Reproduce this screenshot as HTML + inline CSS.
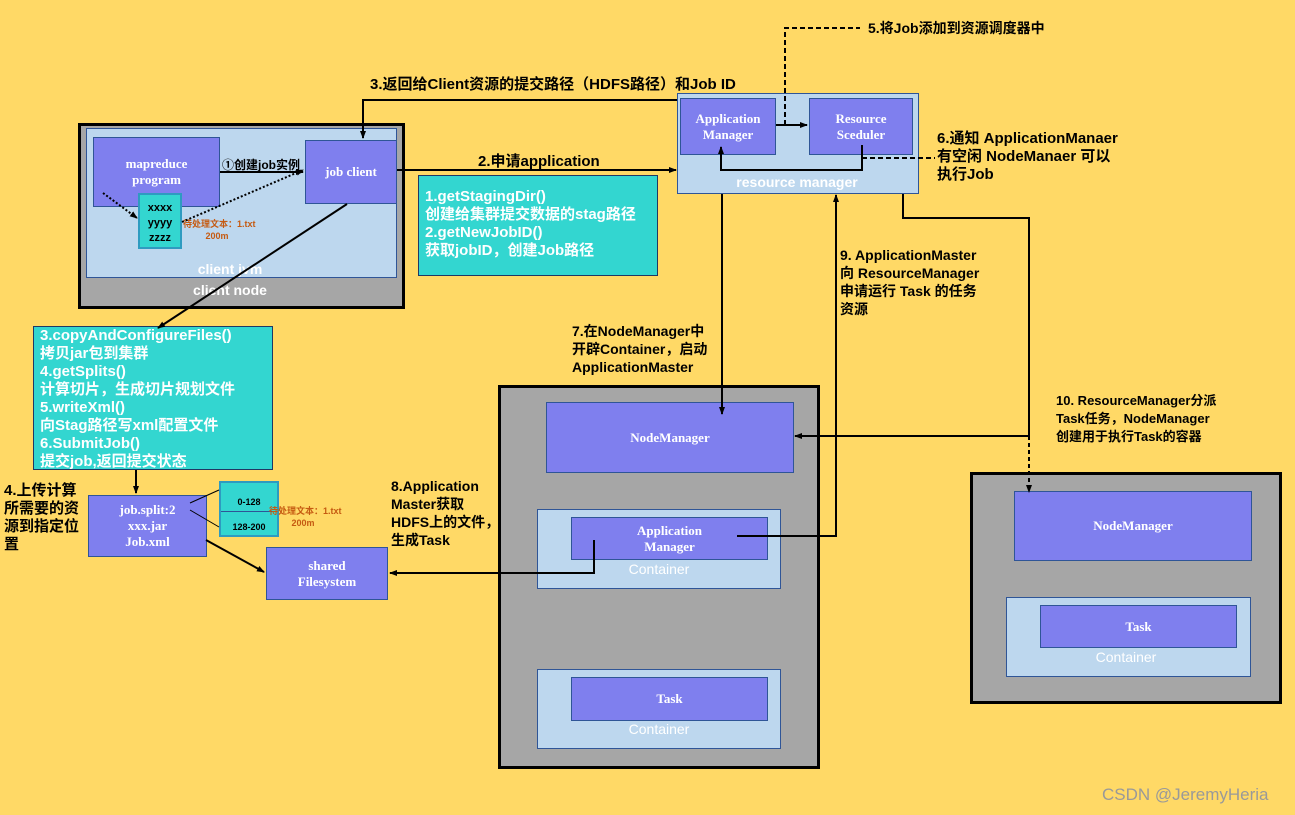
<!DOCTYPE html>
<html><head><meta charset="utf-8"><style>
body{margin:0;width:1295px;height:815px;background:#FFD966;position:relative;overflow:hidden;font-family:"Liberation Sans","Noto Sans CJK SC",sans-serif;}
div{position:absolute;box-sizing:border-box;}
.g{background:#A6A6A6;border:3px solid #000;}
.lb{background:#BDD7EE;border:1px solid #2F5597;}
.p{background:#7F7FEE;border:1px solid #2F5597;color:#fff;font-family:"Liberation Serif","Noto Serif CJK SC",serif;font-weight:bold;font-size:13px;display:flex;align-items:center;justify-content:center;text-align:center;line-height:16px;}
.t{background:#33D6D0;border:1px solid #203864;color:#fff;font-weight:bold;font-size:15px;line-height:18px;}
.w{color:#fff;font-weight:bold;font-size:14px;text-align:center;}
.k{color:#000;font-weight:bold;font-size:14px;line-height:18px;white-space:nowrap;}
.o{color:#C55A11;font-weight:bold;font-size:9px;line-height:12px;white-space:nowrap;}
</style></head><body>
<div class="g" style="left:78px;top:123px;width:327px;height:186px"></div>
<div class="lb" style="left:86px;top:128px;width:311px;height:150px"></div>
<div class="p" style="left:93px;top:137px;width:127px;height:70px">mapreduce<br>program</div>
<div class="p" style="left:305px;top:140px;width:92px;height:64px">job client</div>
<div style="left:138px;top:193px;width:44px;height:56px;background:#33D6D0;border:2px solid #2E9BC0;font-size:11px;font-weight:bold;text-align:center;line-height:15px;padding-top:6px">xxxx<br>yyyy<br>zzzz</div>
<div class="o" style="left:183px;top:218px">待处理文本：1.txt<br>&nbsp;&nbsp;&nbsp;&nbsp;&nbsp;&nbsp;&nbsp;&nbsp;&nbsp;200m</div>
<div class="w" style="left:180px;top:261px;width:100px">client jvm</div>
<div class="w" style="left:180px;top:282px;width:100px">client node</div>
<div class="k" style="left:222px;top:156px;font-size:12px">①创建job实例</div>

<div class="t" style="left:418px;top:175px;width:240px;height:101px;padding:12px 0 0 6px">1.getStagingDir()<br>创建给集群提交数据的stag路径<br>2.getNewJobID()<br>获取jobID，创建Job路径</div>

<div class="lb" style="left:677px;top:93px;width:242px;height:101px"></div>
<div class="p" style="left:680px;top:98px;width:96px;height:57px">Application<br>Manager</div>
<div class="p" style="left:809px;top:98px;width:104px;height:57px">Resource<br>Sceduler</div>
<div class="w" style="left:700px;top:174px;width:194px">resource manager</div>

<div class="t" style="left:33px;top:326px;width:240px;height:144px;padding:0 0 0 6px">3.copyAndConfigureFiles()<br>拷贝jar包到集群<br>4.getSplits()<br>计算切片，生成切片规划文件<br>5.writeXml()<br>向Stag路径写xml配置文件<br>6.SubmitJob()<br>提交job,返回提交状态</div>

<div class="p" style="left:88px;top:495px;width:119px;height:62px">job.split:2<br>xxx.jar<br>Job.xml</div>
<div style="left:219px;top:481px;width:60px;height:56px;background:#33D6D0;border:2px solid #2E9BC0;font-size:9px;font-weight:bold;text-align:center"><div style="left:0;top:14px;width:56px">0-128</div><div style="left:0;top:28px;width:56px;border-top:1px solid #2F5597"></div><div style="left:0;top:39px;width:56px">128-200</div></div>
<div class="o" style="left:269px;top:505px">待处理文本：1.txt<br>&nbsp;&nbsp;&nbsp;&nbsp;&nbsp;&nbsp;&nbsp;&nbsp;&nbsp;200m</div>
<div class="p" style="left:266px;top:547px;width:122px;height:53px">shared<br>Filesystem</div>
<div class="k" style="left:4px;top:482px;font-size:15px">4.上传计算<br>所需要的资<br>源到指定位<br>置</div>

<div class="g" style="left:498px;top:385px;width:322px;height:384px"></div>
<div class="p" style="left:546px;top:402px;width:248px;height:71px">NodeManager</div>
<div class="lb" style="left:537px;top:509px;width:244px;height:80px"></div>
<div class="p" style="left:571px;top:517px;width:197px;height:43px">Application<br>Manager</div>
<div class="w" style="left:537px;top:561px;width:244px;font-weight:normal;font-size:14px">Container</div>
<div class="lb" style="left:537px;top:669px;width:244px;height:80px"></div>
<div class="p" style="left:571px;top:677px;width:197px;height:44px">Task</div>
<div class="w" style="left:537px;top:721px;width:244px;font-weight:normal;font-size:14px">Container</div>

<div class="g" style="left:970px;top:472px;width:312px;height:232px"></div>
<div class="p" style="left:1014px;top:491px;width:238px;height:70px">NodeManager</div>
<div class="lb" style="left:1006px;top:597px;width:245px;height:80px"></div>
<div class="p" style="left:1040px;top:605px;width:197px;height:43px">Task</div>
<div class="w" style="left:1006px;top:649px;width:240px;font-weight:normal;font-size:14px">Container</div>

<div class="k" style="left:370px;top:76px;font-size:15px">3.返回给Client资源的提交路径（HDFS路径）和Job ID</div>
<div class="k" style="left:478px;top:153px;font-size:15px">2.申请application</div>
<div class="k" style="left:868px;top:19px">5.将Job添加到资源调度器中</div>
<div class="k" style="left:937px;top:130px;font-size:15px">6.通知 ApplicationManaer<br>有空闲 NodeManaer 可以<br>执行Job</div>
<div class="k" style="left:840px;top:246px">9. ApplicationMaster<br>向 ResourceManager<br>申请运行 Task 的任务<br>资源</div>
<div class="k" style="left:572px;top:322px">7.在NodeManager中<br>开辟Container，启动<br>ApplicationMaster</div>
<div class="k" style="left:391px;top:477px">8.Application<br>Master获取<br>HDFS上的文件，<br>生成Task</div>
<div class="k" style="left:1056px;top:392px;font-size:13px">10. ResourceManager分派<br>Task任务，NodeManager<br>创建用于执行Task的容器</div>
<div style="left:1102px;top:785px;color:#999;font-size:17px">CSDN @JeremyHeria</div>

<svg width="1295" height="815" style="position:absolute;left:0;top:0" fill="none" stroke="#000" stroke-width="2">
<defs><marker id="a" markerWidth="8" markerHeight="8" refX="7" refY="4" orient="auto" markerUnits="userSpaceOnUse"><path d="M0,1 L8,4 L0,7z" fill="#000" stroke="none"/></marker></defs>
<polyline points="677,100 363,100 363,138" marker-end="url(#a)"/>
<line x1="397" y1="170" x2="676" y2="170" marker-end="url(#a)"/>
<line x1="220" y1="172" x2="303" y2="172" marker-end="url(#a)"/>
<line x1="103" y1="193" x2="137" y2="218" stroke-dasharray="2,2" marker-end="url(#a)"/>
<line x1="182" y1="222" x2="303" y2="170" stroke-dasharray="2,2" marker-end="url(#a)"/>
<line x1="347" y1="204" x2="158" y2="328" marker-end="url(#a)"/>
<line x1="136" y1="470" x2="136" y2="493" marker-end="url(#a)"/>
<line x1="190" y1="503" x2="219" y2="490" stroke-width="1"/>
<line x1="190" y1="510" x2="219" y2="527" stroke-width="1"/>
<line x1="206" y1="540" x2="264" y2="572" marker-end="url(#a)"/>
<polyline points="594,540 594,573 390,573" marker-end="url(#a)"/>
<polyline points="737,536 836,536 836,195" marker-end="url(#a)"/>
<line x1="722" y1="194" x2="722" y2="414" marker-end="url(#a)"/>
<polyline points="903,194 903,218 1029,218 1029,436 795,436" marker-end="url(#a)"/>
<line x1="1029" y1="436" x2="1029" y2="492" stroke-dasharray="4,3" marker-end="url(#a)"/>
<polyline points="785,125 785,28 860,28" stroke-dasharray="5,3"/>
<line x1="776" y1="125" x2="807" y2="125" marker-end="url(#a)"/>
<polyline points="862,145 862,170 721,170 721,147" marker-end="url(#a)"/>
<line x1="862" y1="158" x2="935" y2="158" stroke-dasharray="5,3"/>
</svg>
</body></html>
